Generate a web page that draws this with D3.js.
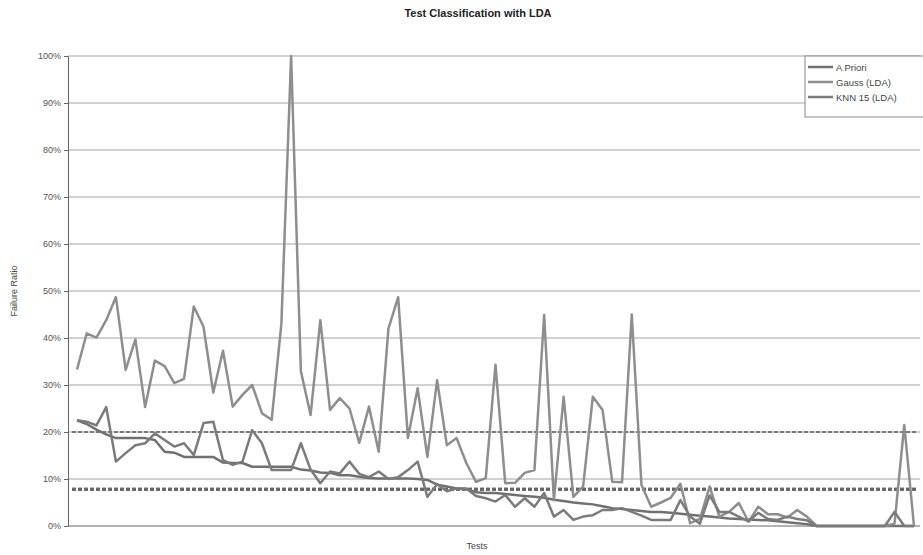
<!DOCTYPE html>
<html><head><meta charset="utf-8">
<script src="https://cdn.jsdelivr.net/npm/d3@7"></script>
<style>body{margin:0;background:#fff}svg{display:block}</style>
</head><body><svg id="c" width="923" height="555"></svg>
<script>
const seriesNames = ["A Priori", "Gauss (LDA)", "KNN 15 (LDA)"];
const aPriori = [22.5,21.7,20.5,19.5,18.7,18.7,18.7,18.7,18.3,15.8,15.6,14.7,14.7,14.7,14.7,13.5,13.4,13.4,12.6,12.6,
12.6,12.6,12.6,12.0,11.8,11.4,11.3,10.8,10.8,10.5,10.2,10.1,10.1,10.1,10.1,10.0,9.8,8.8,8.4,8.0,7.8,
7.2,7.0,7.0,6.8,6.6,6.4,6.2,6.0,5.6,5.3,5.0,4.8,4.6,4.2,3.8,3.6,3.4,3.2,3.0,3.0,2.8,2.6,2.4,2.2,2.0,1.8,1.6,1.5,1.4,1.3,1.2,1.0,0.8,0.6,0.4,
0,0,0,0,0,0,0,0,0,0,0];
const gauss = [33.3,41,40.1,43.8,48.7,33.2,39.7,25.3,35.2,34,30.4,31.3,46.7,42.4,28.4,37.3,25.4,27.9,30,24,
22.6,43,100,33,23.6,43.8,24.7,27.2,25,17.7,25.4,15.8,42,48.7,18.7,29.3,14.7,31,17.2,18.7,13.4,
9.4,10.2,34.3,9.1,9.2,11.3,11.9,44.9,5.5,27.5,6.2,8.4,27.5,24.7,9.4,9.3,45,
8.7,4.1,5.0,6.0,9.0,0.6,1.5,8.4,2.0,3.0,4.9,0.9,4.1,2.5,2.5,1.8,3.4,2.0,
0,0,0,0,0,0,0,0,0.5,21.5,0];
const knn = [22.5,22.2,21.4,25.3,13.7,15.5,17.2,17.6,19.7,18.3,16.9,17.6,15.1,21.9,22.2,14.0,13.0,13.7,20.4,17.6,
11.9,11.9,11.9,17.6,12.0,9.1,11.6,11.2,13.7,11.1,10.4,11.6,10.0,10.4,11.9,13.7,6.2,8.9,7.4,8.0,8.0,
6.4,5.9,5.2,6.6,4.1,5.9,4.1,7.0,2.0,3.4,1.3,2.0,2.3,3.4,3.4,3.8,3.0,2.2,1.3,1.3,1.3,5.5,2.0,0.5,6.5,3.0,3.0,2.0,1.0,2.8,1.5,1.3,2.0,1.5,1.2,
0,0,0,0,0,0,0,0,3.0,0,0];
const meanValues = [7.8, 20.0, 7.8];
const yTicks = [0,10,20,30,40,50,60,70,80,90,100];

const series = [aPriori, gauss, knn];
const colors = ["#707070", "#8e8e8e", "#7b7b7b"];
const meanColors = ["#666666", "#7a7a7a", "#666666"];

const svg = d3.select("#c");
const L = 68, R = 920, T = 56, B = 526;
const idx = d3.range(gauss.length);
const x = d3.scalePoint().domain(idx).range([77, 914]);
const y = d3.scaleLinear().domain([0, 100]).range([B, T]);
const font = "Liberation Sans, Arial, sans-serif";

// grid
svg.append("g").selectAll("line").data(yTicks.filter(d => d > 0)).join("line")
  .attr("x1", L).attr("x2", R).attr("y1", d => y(d)).attr("y2", d => y(d))
  .attr("stroke", "#a4a4a4").attr("stroke-width", 1.2);

// y axis
const ya = svg.append("g").attr("transform", `translate(${L},0)`)
  .call(d3.axisLeft(y).tickValues(yTicks).tickFormat(d => d + "%").tickSize(4).tickPadding(3));
ya.select(".domain").attr("stroke", "#666");
ya.selectAll(".tick line").attr("stroke", "#666");
ya.selectAll(".tick text").attr("fill", "#555").attr("font-size", 9).attr("font-family", font);

// x axis baseline
svg.append("line").attr("x1", L).attr("x2", R).attr("y1", B).attr("y2", B).attr("stroke", "#666").attr("stroke-width", 1.2);

// mean dashed lines
svg.append("g").selectAll("line").data(meanValues).join("line")
  .attr("x1", 72).attr("x2", 918).attr("y1", d => y(d)).attr("y2", d => y(d))
  .attr("stroke", (d, i) => meanColors[i]).attr("stroke-width", (d, i) => i === 1 ? 2 : 3)
  .attr("stroke-dasharray", "4,2");

// series lines
const line = d3.line().x((d, i) => x(i)).y(d => y(d));
svg.append("g").selectAll("path").data(series).join("path")
  .attr("d", line).attr("fill", "none")
  .attr("stroke", (d, i) => colors[i]).attr("stroke-width", 2.5)
  .attr("stroke-linejoin", "round");

// title
svg.append("text").attr("x", 478).attr("y", 17).attr("text-anchor", "middle")
  .attr("font-family", font).attr("font-size", 11).attr("font-weight", "bold").attr("fill", "#222")
  .text("Test Classification with LDA");
svg.append("text").attr("transform", "translate(17,291) rotate(-90)").attr("text-anchor", "middle")
  .attr("font-family", font).attr("font-size", 9).attr("fill", "#444").text("Failure Ratio");
svg.append("text").attr("x", 477).attr("y", 549).attr("text-anchor", "middle")
  .attr("font-family", font).attr("font-size", 9).attr("fill", "#444").text("Tests");

// legend
const lg = svg.append("g");
lg.append("rect").attr("x", 805).attr("y", 56).attr("width", 122).attr("height", 61)
  .attr("fill", "#fff").attr("stroke", "#999").attr("stroke-width", 1.2);
seriesNames.forEach((n, i) => {
  const yy = 67 + i * 15;
  lg.append("line").attr("x1", 808).attr("x2", 833).attr("y1", yy).attr("y2", yy)
    .attr("stroke", colors[i]).attr("stroke-width", 2.5);
  lg.append("text").attr("x", 836).attr("y", yy + 3.5).attr("font-family", font)
    .attr("font-size", 9.5).attr("fill", "#444").text(n);
});
</script></body></html>
